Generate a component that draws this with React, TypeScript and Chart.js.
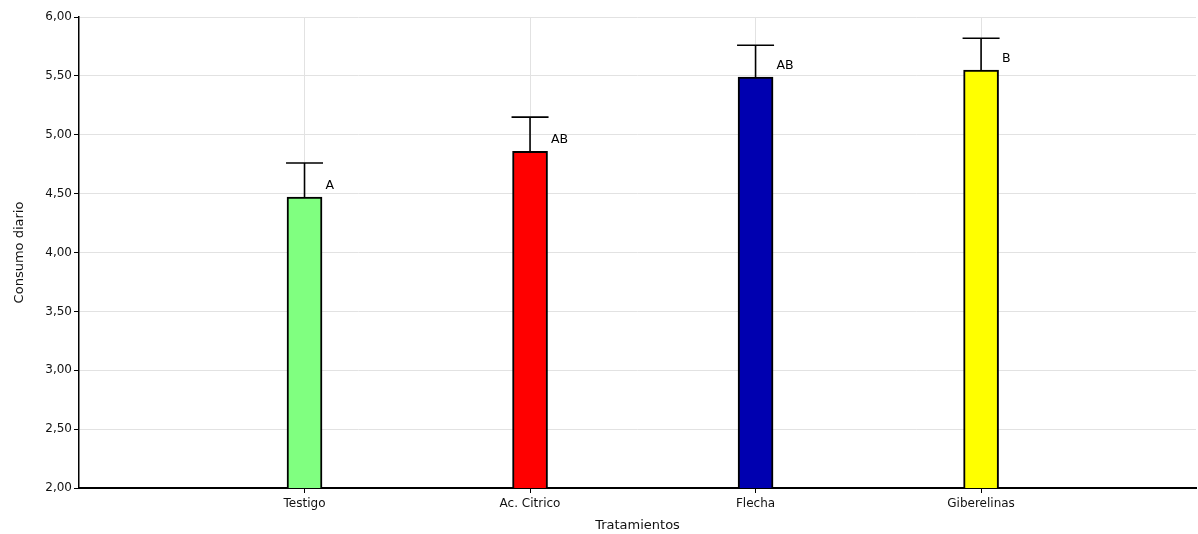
import React, { useEffect, useRef } from "react";
import { Chart, registerables } from "chart.js";

Chart.register(...registerables);

const categories = ["Testigo", "Ac. Citrico", "Flecha", "Giberelinas"];
const means = [4.47, 4.86, 5.49, 5.55];
const upper = [4.76, 5.15, 5.76, 5.82];
const letters = ["A", "AB", "AB", "B"];
const colors = ["#80FF80", "#FF0000", "#0000B0", "#FFFF00"];
const yTicks = [2, 2.5, 3, 3.5, 4, 4.5, 5, 5.5, 6];

const FONT = "'DejaVu Sans', Verdana, sans-serif";

const errorPlugin = {
  id: "errorBarsLetters",
  afterDatasetsDraw(chart: any) {
    const { ctx, scales } = chart;
    const xs = scales.x;
    const ys = scales.y;
    ctx.save();
    ctx.strokeStyle = "#000";
    ctx.lineWidth = 1.6;
    categories.forEach((_, i) => {
      const x = xs.getPixelForValue(i + 1);
      const yTop = ys.getPixelForValue(means[i]);
      const yErr = ys.getPixelForValue(upper[i]);
      ctx.beginPath();
      ctx.moveTo(x, yTop);
      ctx.lineTo(x, yErr);
      ctx.moveTo(x - 18.5, yErr);
      ctx.lineTo(x + 18.5, yErr);
      ctx.stroke();
      ctx.fillStyle = "#000";
      ctx.font = `12.5px ${FONT}`;
      ctx.textAlign = "left";
      ctx.textBaseline = "middle";
      ctx.fillText(letters[i], x + 21, yTop - 11);
    });
    ctx.restore();
  },
};

export default function App() {
  const ref = useRef<HTMLCanvasElement>(null);
  useEffect(() => {
    document.body.style.margin = "0";
    if (!ref.current) return;
    const chart = new Chart(ref.current, {
      type: "bar",
      data: {
        datasets: [
          {
            data: means.map((v, i) => ({ x: i + 1, y: v })),
            backgroundColor: colors,
            borderColor: "#000",
            borderWidth: 2,
            barThickness: 35,
          } as any,
        ],
      },
      options: {
        animation: false,
        responsive: false,
        layout: { padding: { top: 17, right: 2, left: 0, bottom: 0 } },
        plugins: { legend: { display: false }, tooltip: { enabled: false } },
        scales: {
          x: {
            type: "linear",
            min: 0,
            max: 4.953,
            offset: false,
            afterBuildTicks: (scale: any) => {
              scale.ticks = categories.map((_, i) => ({ value: i + 1 }));
            },
            afterFit: (scale: any) => {
              scale.height = 46;
            },
            ticks: {
              callback: (v: any) => categories[Math.round(Number(v)) - 1] ?? "",
              color: "#111",
              font: { size: 12, family: FONT },
              padding: 4,
              maxRotation: 0,
              autoSkip: false,
            },
            grid: {
              offset: false,
              color: "#e2e2e2",
              tickColor: "#000",
              tickLength: 5,
              lineWidth: 1,
            },
            border: { color: "#000", width: 2 },
            title: {
              display: true,
              text: "Tratamientos",
              color: "#111",
              font: { size: 13, family: FONT },
              padding: { top: 4, bottom: 1 },
            },
          },
          y: {
            type: "linear",
            min: 2,
            max: 6,
            afterBuildTicks: (scale: any) => {
              scale.ticks = yTicks.map((v) => ({ value: v }));
            },
            afterFit: (scale: any) => {
              scale.width = 79;
            },
            ticks: {
              callback: (v: any) => Number(v).toFixed(2).replace(".", ","),
              color: "#111",
              font: { size: 12, family: FONT },
              padding: 2,
            },
            grid: {
              color: "#e2e2e2",
              tickColor: "#000",
              tickLength: 5,
              lineWidth: 1,
            },
            border: { color: "#000", width: 1.5 },
            title: {
              display: true,
              text: "Consumo diario",
              color: "#111",
              font: { size: 13, family: FONT },
              padding: { top: 12, bottom: 4 },
            },
          },
        },
      },
      plugins: [errorPlugin],
    });
    return () => chart.destroy();
  }, []);
  return (
    <div style={{ width: 1198, height: 534 }}>
      <canvas ref={ref} width={1198} height={534} />
    </div>
  );
}
